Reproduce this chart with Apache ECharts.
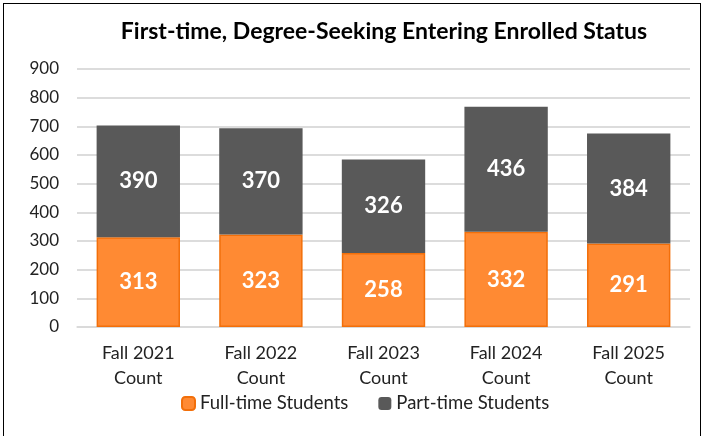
<!DOCTYPE html>
<html>
<head>
<meta charset="utf-8">
<script src="https://cdn.jsdelivr.net/npm/echarts@6/dist/echarts.min.js"></script>
<style>
  html, body { margin: 0; padding: 0; background: #fff; }
  .frame {
    position: absolute; left: 3px; top: 3px; width: 698px; height: 460px;
    border: 1.5px solid #000; box-sizing: border-box;
  }
  #chart { position: absolute; left: 0; top: 0; width: 704px; height: 436px; }
</style>
</head>
<body>
<div class="frame"></div>
<div id="chart"></div>
<script>
const categories = ["Fall 2021\nCount", "Fall 2022\nCount", "Fall 2023\nCount", "Fall 2024\nCount", "Fall 2025\nCount"];
const fullTime = [313, 323, 258, 332, 291];
const partTime = [390, 370, 326, 436, 384];
const yTicks = [0, 900, 100]; // min, max, interval

const font = "Lato, 'Open Sans', sans-serif";

const chart = echarts.init(document.getElementById("chart"));
chart.setOption({
  animation: false,
  title: {
    text: "First-time, Degree-Seeking Entering Enrolled Status",
    left: 379,
    textAlign: "center",
    top: 15,
    textStyle: { fontFamily: font, fontSize: 23, fontWeight: "bold", color: "#000" }
  },
  legend: {
    bottom: 18,
    left: 176,
    itemWidth: 13,
    itemHeight: 13,
    itemGap: 30,
    textStyle: { fontFamily: font, fontSize: 18.5, color: "#222" },
    data: ["Full-time Students", "Part-time Students"]
  },
  grid: { left: 77, right: 14, top: 69, bottom: 109 },
  xAxis: {
    type: "category",
    data: categories,
    axisTick: { show: false },
    axisLine: { lineStyle: { color: "#d9d9d9", width: 1.5 } },
    axisLabel: { fontFamily: font, fontSize: 18, color: "#222", lineHeight: 25, margin: 14 }
  },
  yAxis: {
    type: "value",
    min: yTicks[0],
    max: yTicks[1],
    interval: yTicks[2],
    axisLine: { show: false },
    axisTick: { show: false },
    splitLine: { lineStyle: { color: "#d0d0d0", width: 1.5 } },
    axisLabel: { fontFamily: font, fontSize: 17, color: "#222", margin: 18, align: "right" }
  },
  series: [
    {
      name: "Full-time Students",
      type: "bar",
      stack: "total",
      barWidth: "68%",
      data: fullTime,
      itemStyle: { color: "#ff8a33", borderColor: "#f26f0a", borderWidth: 1.5 },
      label: { show: true, position: "inside", color: "#fff", fontFamily: font, fontSize: 22, fontWeight: "bold" }
    },
    {
      name: "Part-time Students",
      type: "bar",
      stack: "total",
      barWidth: "68%",
      data: partTime,
      itemStyle: { color: "#595959" },
      label: { show: true, position: "inside", color: "#fff", fontFamily: font, fontSize: 22, fontWeight: "bold" }
    }
  ]
});
</script>
</body>
</html>
